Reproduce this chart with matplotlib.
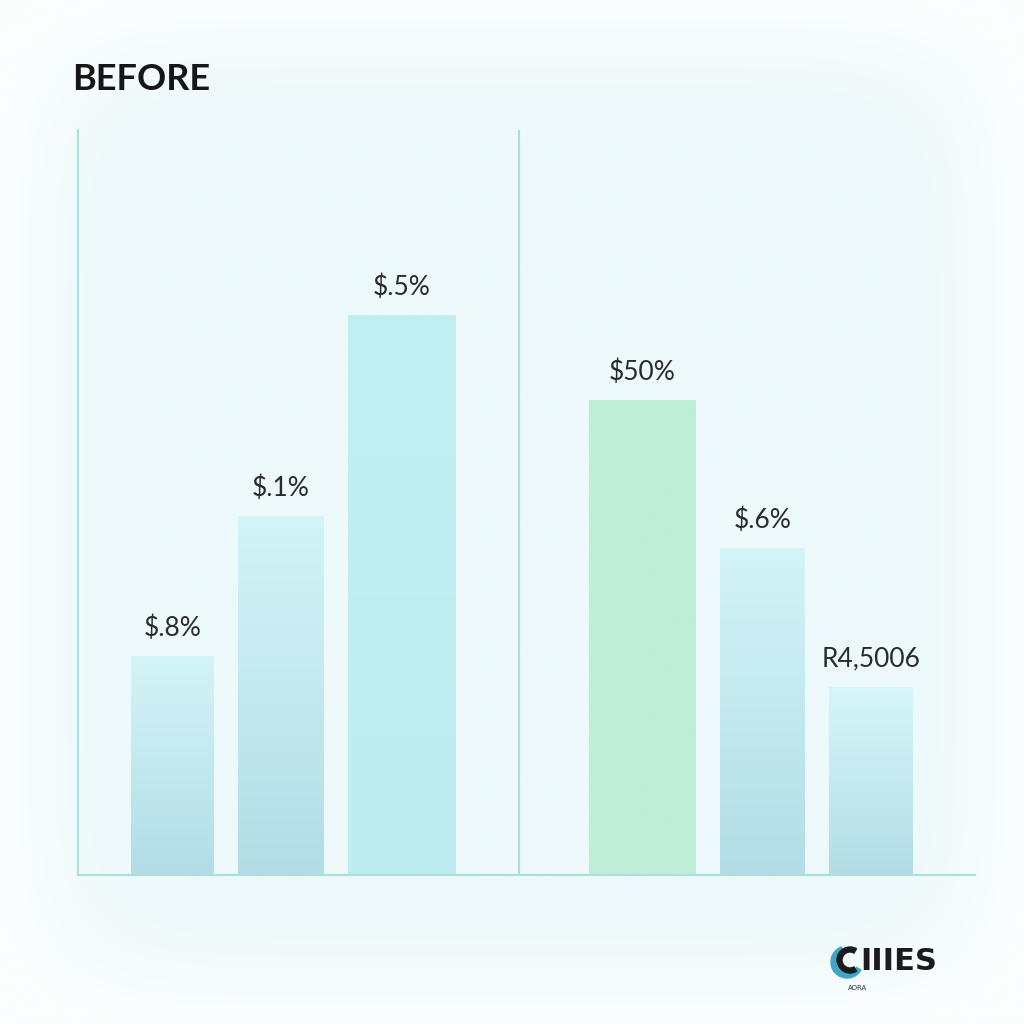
import numpy as np
import matplotlib.pyplot as plt
from matplotlib.colors import LinearSegmentedColormap
from matplotlib.patches import Wedge

# ---- data ----
labels = ["$.8%", "$.1%", "$.5%", "$50%", "$.6%", "R4,5006"]
values = [219, 359, 560, 475, 327, 188]
left_edges = [53, 160, 270, 511, 642, 751]
widths = [83, 86, 108, 107, 85, 84]
title = "BEFORE"

top_colors = ["#d3f4f8", "#d3f4f8", "#c0f0f2", "#bdeed6", "#d3f4f8", "#d6f6f9"]
bottom_colors = ["#b2dde6", "#b2dde6", "#bdecf0", "#bdeed6", "#b2dde6", "#b2dde6"]

W = H = 1024
fig = plt.figure(figsize=(10.24, 10.24), dpi=100)

# background with soft glow
bg = fig.add_axes([0, 0, 1, 1])
yy, xx = np.mgrid[-1:1:600j, -1:1:600j]
d = (np.abs(xx) ** 8 + np.abs(yy) ** 8) ** (1 / 8)
r = np.clip((d - 0.75) / 0.25, 0, 1) ** 1.5
bgcmap = LinearSegmentedColormap.from_list("bg", ["#edf9fb", "#fbfefe"], N=1024)
bg.imshow(r, cmap=bgcmap, extent=[0, 1, 0, 1], aspect="auto", zorder=0,
          interpolation="bicubic")
bg.set_xlim(0, 1); bg.set_ylim(0, 1); bg.axis("off")

# main axes: pixel 78..975 horizontally, 130..875 vertically
ax = fig.add_axes([78 / W, (W - 875) / H, (975 - 78) / W, (875 - 130) / H])
ax.patch.set_alpha(0)

bars = ax.bar(left_edges, values, width=widths, align="edge", color="none",
              edgecolor="none", zorder=2)
for b, ct, cb in zip(bars, top_colors, bottom_colors):
    cm = LinearSegmentedColormap.from_list("g", [cb, ct])
    x0, y0 = b.get_x(), b.get_y()
    grad = np.linspace(0, 1, 256).reshape(-1, 1)
    im = ax.imshow(grad, cmap=cm, origin="lower", aspect="auto",
                   extent=[x0, x0 + b.get_width(), y0, y0 + b.get_height()], zorder=2)
    im.set_clip_path(b)

for b, lab in zip(bars, labels):
    ax.annotate(lab, (b.get_x() + b.get_width() / 2, b.get_height()),
                xytext=(0, 20), textcoords="offset points", ha="center", va="center",
                fontsize=19, color="#2b2b2b", family="Lato", zorder=3)

ax.set_xlim(0, 897)
ax.set_ylim(0, 745)
for s in ["top", "right"]:
    ax.spines[s].set_visible(False)
ax.spines["left"].set_color("#a9e0dc")
ax.spines["bottom"].set_color("#a9e0dc")
ax.spines["left"].set_linewidth(1.5)
ax.spines["bottom"].set_linewidth(1.5)
ax.axvline(441, color="#a9e0dc", lw=1.5, zorder=1)
ax.set_xticks([]); ax.set_yticks([])

fig.text(72 / W, 1 - 80 / H, title, fontsize=26, fontweight="bold", family="Lato",
         color="#161616", va="center", ha="left")

# logo approximation
lg = fig.add_axes([820 / W, 1 - 1000 / H, 150 / W, 70 / H])
lg.set_xlim(0, 150); lg.set_ylim(0, 70); lg.axis("off")
lg.add_patch(Wedge((27, 38), 16, 110, 330, width=5, color="#3aa7c9"))
lg.add_patch(Wedge((30, 40), 13, 60, 300, width=5, color="#1b1b1b"))
lg.text(40, 39, "IIIES", fontsize=22, fontweight="bold", family="DejaVu Sans",
        color="#1b1b1b", va="center", ha="left")
lg.text(28, 12, "AORA", fontsize=5, color="#333333", va="center", ha="left")

fig.savefig("out.png", dpi=100)
